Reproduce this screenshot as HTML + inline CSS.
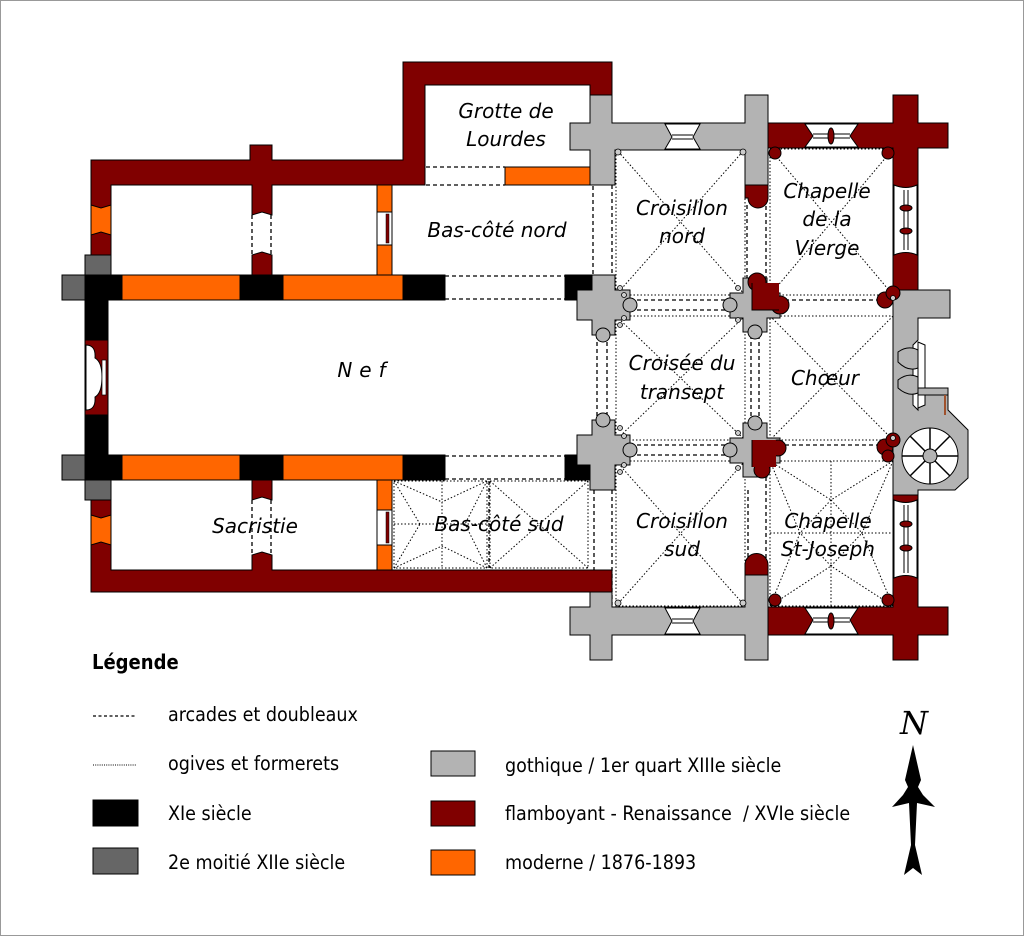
<!DOCTYPE html>
<html><head><meta charset="utf-8"><style>
html,body{margin:0;padding:0;background:#fff}
svg{display:block}
.lab{font-family:"DejaVu Sans","Liberation Sans",sans-serif;font-style:italic;font-size:20px;fill:#000;text-anchor:middle}
.leg{font-family:"DejaVu Sans Condensed","DejaVu Sans","Liberation Sans",sans-serif;font-size:19.5px;fill:#000}
.d{stroke:#000;stroke-width:1.3;stroke-dasharray:4,3;fill:none}
.o{stroke:#000;stroke-width:1;stroke-dasharray:1.5,2;fill:none}
.r{fill:#800000;stroke:#000;stroke-width:1}
.g{fill:#b3b3b3;stroke:#000;stroke-width:1}
.k{fill:#000;stroke:#000;stroke-width:1}
.dg{fill:#666;stroke:#000;stroke-width:1}
.or{fill:#ff6600;stroke:#000;stroke-width:1}
.w{fill:#fff;stroke:#000;stroke-width:1}
</style></head><body>
<svg width="1024" height="936" viewBox="0 0 1024 936" xmlns="http://www.w3.org/2000/svg">
<rect x="0.5" y="0.5" width="1023" height="935" fill="#fff" stroke="#999"/>

<g class="o">
<rect x="616" y="149" width="129" height="146"/>
<line x1="616" y1="149" x2="745" y2="295"/><line x1="745" y1="149" x2="616" y2="295"/>
<rect x="770" y="149" width="123" height="146"/>
<line x1="770" y1="149" x2="893" y2="295"/><line x1="893" y1="149" x2="770" y2="295"/>
<rect x="616" y="316" width="129" height="124"/>
<line x1="616" y1="316" x2="745" y2="440"/><line x1="745" y1="316" x2="616" y2="440"/>
<rect x="770" y="316" width="123" height="124"/>
<line x1="770" y1="316" x2="893" y2="440"/><line x1="893" y1="316" x2="770" y2="440"/>
<rect x="616" y="461" width="129" height="145"/>
<line x1="616" y1="461" x2="745" y2="606"/><line x1="745" y1="461" x2="616" y2="606"/>
<rect x="770" y="461" width="123" height="145"/>
<line x1="831" y1="461" x2="831" y2="606"/><line x1="770" y1="533" x2="893" y2="533"/>
<line x1="770" y1="461" x2="831" y2="500"/><line x1="893" y1="461" x2="831" y2="500"/>
<line x1="770" y1="606" x2="831" y2="566"/><line x1="893" y1="606" x2="831" y2="566"/>
<line x1="770" y1="461" x2="800" y2="533"/><line x1="893" y1="461" x2="862" y2="533"/>
<line x1="770" y1="606" x2="800" y2="533"/><line x1="893" y1="606" x2="862" y2="533"/>
<line x1="831" y1="500" x2="800" y2="533"/><line x1="831" y1="500" x2="862" y2="533"/>
<line x1="831" y1="566" x2="800" y2="533"/><line x1="831" y1="566" x2="862" y2="533"/>
<rect x="394" y="481" width="93" height="87"/>
<line x1="442" y1="481" x2="442" y2="568"/><line x1="394" y1="524" x2="487" y2="524"/>
<line x1="394" y1="481" x2="442" y2="502"/><line x1="487" y1="481" x2="442" y2="502"/>
<line x1="394" y1="568" x2="442" y2="546"/><line x1="487" y1="568" x2="442" y2="546"/>
<line x1="394" y1="481" x2="420" y2="524"/><line x1="487" y1="481" x2="465" y2="524"/>
<line x1="394" y1="568" x2="420" y2="524"/><line x1="487" y1="568" x2="465" y2="524"/>
<rect x="490" y="481" width="98" height="87"/>
<line x1="490" y1="481" x2="588" y2="568"/><line x1="588" y1="481" x2="490" y2="568"/>
</g>

<g class="d">
<line x1="445" y1="276" x2="565" y2="276"/><line x1="445" y1="299" x2="565" y2="299"/>
<line x1="445" y1="456" x2="565" y2="456"/><line x1="445" y1="479" x2="565" y2="479"/>
<line x1="426" y1="167" x2="505" y2="167"/><line x1="426" y1="185" x2="505" y2="185"/>
<line x1="593" y1="186" x2="593" y2="276"/>
<line x1="594" y1="490" x2="594" y2="570"/>
<line x1="489" y1="481" x2="489" y2="568"/>
<line x1="252" y1="215" x2="252" y2="255"/><line x1="271" y1="215" x2="271" y2="255"/>
<line x1="252" y1="500" x2="252" y2="555"/><line x1="271" y1="500" x2="271" y2="555"/>
<line x1="597" y1="335" x2="597" y2="420"/><line x1="607" y1="335" x2="607" y2="420"/>
<line x1="612" y1="150" x2="612" y2="285"/><line x1="612" y1="490" x2="612" y2="605"/>
<line x1="747" y1="205" x2="747" y2="285"/><line x1="751" y1="335" x2="751" y2="420"/><line x1="759" y1="335" x2="759" y2="420"/>
<line x1="748" y1="490" x2="748" y2="565"/><line x1="766" y1="150" x2="766" y2="290"/><line x1="766" y1="470" x2="766" y2="605"/>
<line x1="630" y1="300" x2="740" y2="300"/><line x1="630" y1="310" x2="740" y2="310"/>
<line x1="630" y1="445" x2="740" y2="445"/><line x1="630" y1="455" x2="740" y2="455"/>
<line x1="785" y1="300" x2="880" y2="300"/><line x1="785" y1="445" x2="880" y2="445"/>
</g>

<path class="r" d="M91,160 H250 V145 H272 V160 H403 V62 H612 V95 H590 V85 H425 V185 H272 V215 L262,212 L252,215 V185 H111 V255 H91 Z"/>
<path class="r" d="M252,255 L262,252 L272,255 V275 H252 Z"/>
<path class="or" d="M91,205 L101,208 L111,205 V235 L101,232 L91,235 Z"/>
<path class="r" d="M91,500 H111 V570 H252 V555 L262,552 L272,555 V570 H612 V592 H91 Z"/>
<path class="r" d="M252,480 H272 V500 L262,497 L252,500 Z"/>
<path class="or" d="M91,515 L101,518 L111,515 V545 L101,542 L91,545 Z"/>
<rect class="or" x="505" y="167" width="85" height="18"/>
<rect class="or" x="377" y="185" width="15" height="27"/><rect class="w" x="377" y="212" width="15" height="33"/><rect x="386" y="214" width="3" height="29" fill="#800000" stroke="#000" stroke-width="0.5"/><rect class="or" x="377" y="245" width="15" height="30"/>
<rect class="or" x="377" y="480" width="15" height="30"/><rect class="w" x="377" y="510" width="15" height="35"/><rect x="386" y="512" width="3" height="31" fill="#800000" stroke="#000" stroke-width="0.5"/><rect class="or" x="377" y="545" width="15" height="25"/>

<rect class="k" x="85" y="275" width="37" height="25"/>
<rect class="or" x="122" y="275" width="118" height="25"/>
<rect class="k" x="240" y="275" width="43" height="25"/>
<rect class="or" x="283" y="275" width="120" height="25"/>
<rect class="k" x="403" y="275" width="42" height="25"/>
<rect class="k" x="565" y="275" width="28" height="25"/>
<rect class="k" x="85" y="455" width="37" height="25"/>
<rect class="or" x="122" y="455" width="118" height="25"/>
<rect class="k" x="240" y="455" width="43" height="25"/>
<rect class="or" x="283" y="455" width="120" height="25"/>
<rect class="k" x="403" y="455" width="42" height="25"/>
<rect class="k" x="565" y="455" width="28" height="25"/>
<rect class="k" x="85" y="300" width="23" height="155"/>
<rect class="r" x="85" y="340" width="23" height="75"/>
<path d="M86,345 Q96,345 95,358 Q102,362 102,377 Q102,393 95,397 Q96,410 86,410 Z" fill="#fff" stroke="#000"/>
<rect x="102" y="360" width="4" height="35" fill="#fff" stroke="#000" stroke-width="0.7"/>
<rect class="dg" x="62" y="275" width="23" height="25"/><rect class="dg" x="62" y="455" width="23" height="25"/>
<rect class="dg" x="85" y="255" width="26" height="20"/><rect class="dg" x="85" y="480" width="26" height="20"/>

<path class="g" d="M590,95 H612 V123 H745 V95 H768 V185 H745 V150 H615 V185 H590 V150 H570 V123 H590 Z"/>
<path d="M665,124 H700 L693,137 L700,149 H665 L672,137 Z" fill="#fff" stroke="#000"/>
<line x1="672" y1="135" x2="693" y2="135" stroke="#000"/><line x1="672" y1="139" x2="693" y2="139" stroke="#000"/>
<path class="r" d="M745,185 H768 V198 A10,10 0 0 1 748,198 H745 Z"/>
<path class="g" d="M590,592 H612 V607 H745 V575 H768 V660 H745 V635 H612 V660 H590 V635 H570 V607 H590 Z"/>
<path d="M665,608 H700 L693,621 L700,634 H665 L672,621 Z" fill="#fff" stroke="#000"/>
<line x1="672" y1="619" x2="693" y2="619" stroke="#000"/><line x1="672" y1="623" x2="693" y2="623" stroke="#000"/>
<path class="r" d="M745,575 V565 A10,10 0 0 1 768,565 V575 Z"/>

<path class="r" d="M768,123 H893 V95 H918 V123 H948 V148 H918 V290 H893 V148 H768 Z"/>
<path d="M805,124 H858 L850,136 L858,147 H805 L813,136 Z" fill="#fff" stroke="#000"/>
<line x1="813" y1="134" x2="850" y2="134" stroke="#000"/><line x1="813" y1="138" x2="850" y2="138" stroke="#000"/>
<ellipse cx="831" cy="136" rx="3" ry="8" fill="#800000" stroke="#000"/>
<path d="M894,185 Q906,190 917,185 V255 Q906,250 894,255 Z" fill="#fff" stroke="#000"/>
<line x1="904" y1="190" x2="904" y2="250" stroke="#000"/><line x1="908" y1="190" x2="908" y2="250" stroke="#000"/>
<ellipse cx="906" cy="208" rx="6" ry="3" fill="#800000" stroke="#000"/><ellipse cx="906" cy="231" rx="6" ry="3" fill="#800000" stroke="#000"/>
<path class="r" d="M893,490 H918 V607 H948 V635 H918 V660 H893 V635 H768 V607 H893 Z"/>
<path d="M805,608 H858 L850,620 L858,634 H805 L813,620 Z" fill="#fff" stroke="#000"/>
<line x1="813" y1="618" x2="850" y2="618" stroke="#000"/><line x1="813" y1="622" x2="850" y2="622" stroke="#000"/>
<ellipse cx="831" cy="621" rx="3" ry="8" fill="#800000" stroke="#000"/>
<path d="M894,500 Q906,505 917,500 V578 Q906,573 894,578 Z" fill="#fff" stroke="#000"/>
<line x1="904" y1="505" x2="904" y2="573" stroke="#000"/><line x1="908" y1="505" x2="908" y2="573" stroke="#000"/>
<ellipse cx="906" cy="524" rx="6" ry="3" fill="#800000" stroke="#000"/><ellipse cx="906" cy="548" rx="6" ry="3" fill="#800000" stroke="#000"/>
<g class="r"><circle cx="775" cy="153" r="6"/><circle cx="888" cy="153" r="6"/><circle cx="775" cy="600" r="6"/><circle cx="888" cy="600" r="6"/></g>

<path class="g" d="M893,290 H950 V318 H918 V340 L913,345 V405 L918,410 V388 H948 V410 L968,430 V478 L955,490 H918 V495 H893 Z"/>
<path d="M918,342 L925,345 V405 L918,408 Z" fill="#fff" stroke="#000"/>
<path d="M898,352 Q908,345 918,350 L918,368 Q908,372 898,362 Z" fill="#b3b3b3" stroke="#000"/>
<path d="M898,380 Q908,372 918,377 L918,393 Q908,397 898,388 Z" fill="#b3b3b3" stroke="#000"/>
<rect x="918" y="388" width="30" height="7" fill="#b3b3b3" stroke="#000"/>
<line x1="945" y1="395" x2="945" y2="415" stroke="#a0522d" stroke-width="2"/>
<circle cx="930" cy="456" r="28" fill="#fff" stroke="#000"/>
<g stroke="#000" stroke-width="1.5">
<line x1="902" y1="456" x2="958" y2="456"/><line x1="930" y1="428" x2="930" y2="484"/>
<line x1="910" y1="436" x2="950" y2="476"/><line x1="950" y1="436" x2="910" y2="476"/>
</g>
<circle cx="930" cy="456" r="7" fill="#b3b3b3" stroke="#000"/>
<g class="r"><circle cx="885" cy="300" r="8"/><circle cx="893" cy="293" r="7"/><circle cx="885" cy="447" r="8"/><circle cx="893" cy="440" r="7"/><circle cx="888" cy="456" r="6"/></g>

<g class="g">
<path d="M592,275 H615 V290 H630 V320 H615 V335 H592 V320 H577 V290 H592 Z"/>
<circle cx="630" cy="305" r="7"/><circle cx="603" cy="335" r="7"/>
<path d="M592,420 H615 V435 H630 V465 H615 V490 H590 V465 H577 V435 H592 Z"/>
<circle cx="630" cy="450" r="7"/><circle cx="603" cy="420" r="7"/>
<path d="M743,278 H767 V293 H780 V318 H767 V332 H743 V318 H730 V293 H743 Z"/>
<circle cx="730" cy="305" r="7"/><circle cx="755" cy="332" r="7"/>
<path d="M743,423 H767 V438 H780 V463 H767 V477 H743 V463 H730 V438 H743 Z"/>
<circle cx="730" cy="450" r="7"/><circle cx="755" cy="423" r="7"/>
</g>
<g class="r">
<circle cx="757" cy="282" r="9"/><circle cx="780" cy="305" r="9"/>
<rect x="752" y="283" width="27" height="27" stroke="none"/>
<path d="M752,283 V310 H779" fill="none" stroke="#000"/>
<circle cx="778" cy="448" r="8"/><circle cx="762" cy="470" r="8"/>
<rect x="752" y="440" width="24" height="27" stroke="none"/>
<path d="M752,440 V467" fill="none" stroke="#000"/>
</g>
<g fill="#ccc" stroke="#000" stroke-width="0.8">
<circle cx="620" cy="288" r="2.5"/><circle cx="624" cy="295" r="2.5"/><circle cx="624" cy="318" r="2.5"/><circle cx="620" cy="325" r="2.5"/>
<circle cx="620" cy="428" r="2.5"/><circle cx="624" cy="436" r="2.5"/><circle cx="624" cy="465" r="2.5"/><circle cx="620" cy="472" r="2.5"/>
<circle cx="738" cy="288" r="2.5"/><circle cx="738" cy="320" r="2.5"/><circle cx="738" cy="433" r="2.5"/><circle cx="738" cy="468" r="2.5"/>
<circle cx="618" cy="152" r="3"/><circle cx="743" cy="152" r="3"/><circle cx="618" cy="603" r="3"/><circle cx="743" cy="603" r="3"/>
<circle cx="893" cy="298" r="2.5"/><circle cx="893" cy="438" r="2.5"/>
</g>

<text class="lab" x="506" y="118">Grotte de</text>
<text class="lab" x="506" y="146">Lourdes</text>
<text class="lab" x="497" y="237">Bas-côté nord</text>
<text class="lab" x="365" y="377" style="letter-spacing:7px">Nef</text>
<text class="lab" x="255" y="533">Sacristie</text>
<text class="lab" x="499" y="531">Bas-côté sud</text>
<text class="lab" x="682" y="215">Croisillon</text>
<text class="lab" x="682" y="243">nord</text>
<text class="lab" x="827" y="198">Chapelle</text>
<text class="lab" x="827" y="226">de la</text>
<text class="lab" x="827" y="255">Vierge</text>
<text class="lab" x="682" y="370">Croisée du</text>
<text class="lab" x="682" y="399">transept</text>
<text class="lab" x="825" y="385">Chœur</text>
<text class="lab" x="682" y="528">Croisillon</text>
<text class="lab" x="682" y="556">sud</text>
<text class="lab" x="828" y="528">Chapelle</text>
<text class="lab" x="828" y="556">St-Joseph</text>

<text x="92" y="669" style="font-family:'DejaVu Sans Condensed','DejaVu Sans',sans-serif;font-weight:bold;font-size:20px">Légende</text>
<line x1="93" y1="716" x2="137" y2="716" stroke="#000" stroke-width="1.3" stroke-dasharray="3,2.5"/>
<text class="leg" x="168" y="721">arcades et doubleaux</text>
<line x1="93" y1="765" x2="137" y2="765" stroke="#000" stroke-width="1" stroke-dasharray="1,1.2"/>
<text class="leg" x="168" y="770">ogives et formerets</text>
<rect class="k" x="93" y="800" width="45" height="26"/>
<text class="leg" x="168" y="820">XIe siècle</text>
<rect class="dg" x="93" y="848" width="45" height="26"/>
<text class="leg" x="168" y="869">2e moitié XIIe siècle</text>
<rect class="g" x="431" y="751" width="44" height="25"/>
<text class="leg" x="505" y="772">gothique / 1er quart XIIIe siècle</text>
<rect class="r" x="431" y="801" width="44" height="25"/>
<text class="leg" x="505" y="820">flamboyant - Renaissance&#160; / XVIe siècle</text>
<rect class="or" x="431" y="850" width="44" height="25"/>
<text class="leg" x="505" y="869">moderne / 1876-1893</text>

<text x="914" y="734" style="font-family:'DejaVu Serif','Liberation Serif',serif;font-style:italic;font-size:32px;text-anchor:middle">N</text>
<path d="M913,745 L921,780 L918,787 L923,795 L935,807 L917,803 L915,845 L922,875 L913,868 L904,875 L911,845 L909,803 L892,807 L903,795 L908,787 L905,780 Z" fill="#000"/>
</svg>
</body></html>
